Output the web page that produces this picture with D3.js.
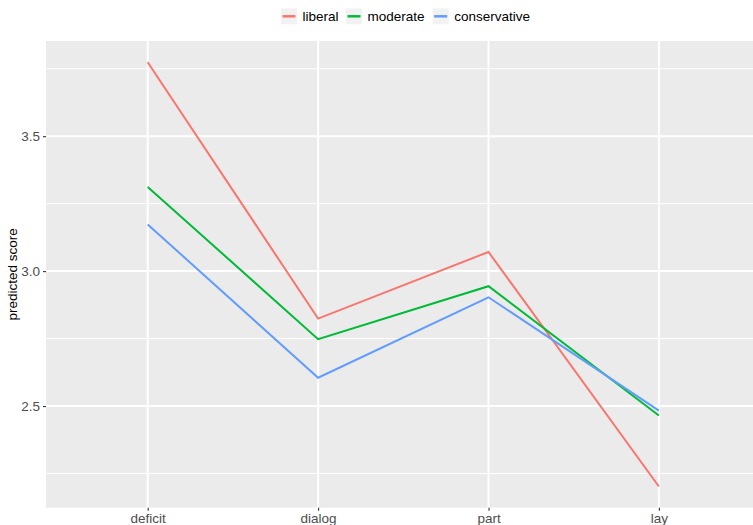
<!DOCTYPE html>
<html><head><meta charset="utf-8">
<script src="https://cdn.jsdelivr.net/npm/d3@7"></script>
<style>body{margin:0;background:#fff}svg{display:block;font-family:"Liberation Sans",Arial,sans-serif}</style>
</head><body>
<svg id="c" width="753" height="525"></svg>
<script>
const categories = ["deficit", "dialog", "part", "lay"];
const seriesNames = ["liberal", "moderate", "conservative"];
const liberal = [3.774, 2.824, 3.071, 2.202];
const moderate = [3.312, 2.748, 2.944, 2.465];
const conservative = [3.173, 2.605, 2.903, 2.483];
const yTicks = [2.5, 3.0, 3.5];
const yMinor = [2.25, 2.75, 3.25, 3.75];
const colors = ["#F8766D", "#00BA38", "#619CFF"];

const series = [liberal, moderate, conservative];
const svg = d3.select("#c");
const P = {left: 46, top: 41, bottom: 507.7, right: 753};
const step = 170.4;
const x0 = 147.7 - 0.6 * step;
const x = d3.scalePoint().domain(categories).range([x0 + 0.6*step, x0 + 0.6*step + 3*step]);
const all = series.flat();
const lo = d3.min(all), hi = d3.max(all), pad = (hi - lo) * 0.05;
const y = d3.scaleLinear().domain([lo - pad, hi + pad]).range([P.bottom, P.top]);

svg.append("rect").attr("x", P.left).attr("y", P.top).attr("width", P.right - P.left).attr("height", P.bottom - P.top).attr("fill", "#EBEBEB");
const g = svg.append("g");
yMinor.forEach(v => g.append("line").attr("x1", P.left).attr("x2", P.right).attr("y1", y(v)).attr("y2", y(v)).attr("stroke", "#fff").attr("stroke-width", 1));
yTicks.forEach(v => g.append("line").attr("x1", P.left).attr("x2", P.right).attr("y1", y(v)).attr("y2", y(v)).attr("stroke", "#fff").attr("stroke-width", 2));
categories.forEach(c => g.append("line").attr("x1", x(c)).attr("x2", x(c)).attr("y1", P.top).attr("y2", P.bottom).attr("stroke", "#fff").attr("stroke-width", 2));

const line = d3.line().x((d, i) => x(categories[i])).y(d => y(d));
series.forEach((s, i) => svg.append("path").attr("d", line(s)).attr("fill", "none").attr("stroke", colors[i]).attr("stroke-width", 2));

// y axis
const ya = svg.append("g").attr("transform", `translate(${P.left},0)`).call(d3.axisLeft(y).tickValues(yTicks).tickFormat(d3.format(".1f")).tickSize(3).tickPadding(3));
ya.select(".domain").remove();
ya.selectAll(".tick line").attr("stroke", "#333").attr("stroke-width", 1.1);
ya.selectAll(".tick text").attr("fill", "#4D4D4D").style("font-size", "13.5px").style("font-family", "Liberation Sans, Arial, sans-serif");
// x axis
const xa = svg.append("g").attr("transform", `translate(0,${P.bottom})`).call(d3.axisBottom(x).tickSize(3).tickPadding(3));
xa.select(".domain").remove();
xa.selectAll(".tick line").attr("stroke", "#333").attr("stroke-width", 1.1);
xa.selectAll(".tick text").attr("fill", "#4D4D4D").style("font-size", "13.5px").style("font-family", "Liberation Sans, Arial, sans-serif");

svg.append("text").attr("transform", `translate(17,${(P.top + P.bottom)/2}) rotate(-90)`).attr("text-anchor", "middle").style("font-size", "13.5px").attr("fill", "#000").text("predicted score");

// legend
const keyX = [281, 346, 432.7];
seriesNames.forEach((n, i) => {
  const lg = svg.append("g").attr("transform", `translate(${keyX[i]},8.3)`);
  lg.append("rect").attr("width", 16).attr("height", 16).attr("fill", "#F2F2F2");
  lg.append("line").attr("x1", 1.5).attr("x2", 14.5).attr("y1", 8).attr("y2", 8).attr("stroke", colors[i]).attr("stroke-width", 2.5);
  lg.append("text").attr("x", 21.5).attr("y", 13).style("font-size", "13.5px").attr("fill", "#000").text(n);
});
</script>
</body></html>
